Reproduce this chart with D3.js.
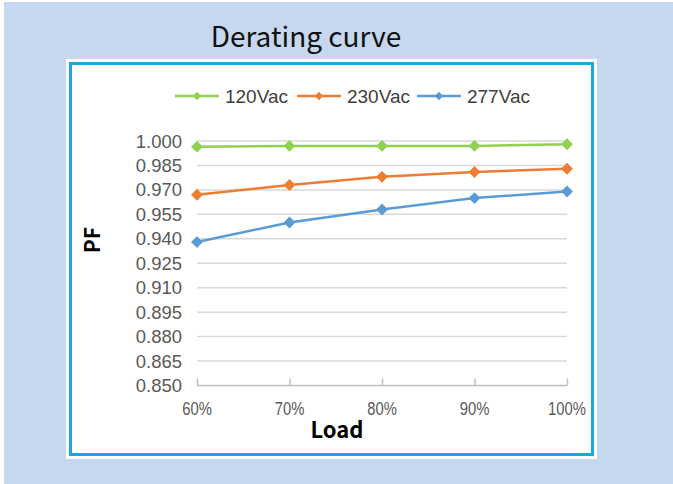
<!DOCTYPE html>
<html>
<head>
<meta charset="utf-8">
<script src="https://cdn.jsdelivr.net/npm/d3@7"></script>
<style>
  html, body { margin: 0; padding: 0; background: #fff; }
  svg { display: block; }
</style>
</head>
<body>
<svg id="chart" width="673" height="484"></svg>
<script>
// Derating curve - PF vs load for three input voltages
var loads = ["60%", "70%", "80%", "90%", "100%"];
var pf120 = [0.9965, 0.997, 0.997, 0.997, 0.998];
var pf230 = [0.967, 0.973, 0.978, 0.981, 0.983];
var pf277 = [0.938, 0.950, 0.958, 0.965, 0.969];
var seriesNames = ["120Vac", "230Vac", "277Vac"];
var seriesColors = ["#92d050", "#ed7d31", "#5b9bd5"];
var yTicks = [0.850, 0.865, 0.880, 0.895, 0.910, 0.925, 0.940, 0.955, 0.970, 0.985, 1.000];

var svg = d3.select("#chart");

// page background
svg.append("rect").attr("x", 4).attr("y", 2).attr("width", 669).attr("height", 482)
    .attr("fill", "#c5d8ef");

// title
svg.append("text")
    .attr("x", 306).attr("y", 47)
    .attr("text-anchor", "middle")
    .attr("font-family", "'Noto Sans CJK KR', 'Noto Sans', sans-serif")
    .attr("font-size", 28)
    .attr("fill", "#111")
    .text("Derating curve");

// white card with blue frame
svg.append("rect").attr("x", 66).attr("y", 59).attr("width", 531).attr("height", 400)
    .attr("fill", "#fff");
svg.append("rect").attr("x", 70.5).attr("y", 63.5).attr("width", 522).attr("height", 391)
    .attr("fill", "none").attr("stroke", "#1aa6de").attr("stroke-width", 3);

var x = d3.scalePoint().domain(loads).range([197, 567]);
var y = d3.scaleLinear().domain([0.85, 1.0]).range([385.5, 141]);

// gridlines
svg.append("g").selectAll("line")
    .data(yTicks.slice(1))
    .join("line")
    .attr("x1", 197).attr("x2", 567)
    .attr("y1", function(d) { return y(d); })
    .attr("y2", function(d) { return y(d); })
    .attr("stroke", "#d9d9d9").attr("stroke-width", 1.5);

// x axis line with upward ticks
var xAxis = svg.append("g").attr("transform", "translate(0," + y(0.85) + ")")
    .call(d3.axisTop(x).tickSize(7).tickFormat(""));
xAxis.select(".domain").attr("d", "M197,0H567").attr("stroke", "#bfbfbf").attr("stroke-width", 1.5);
xAxis.selectAll(".tick line").attr("stroke", "#bfbfbf").attr("stroke-width", 1.5);

// x tick labels (narrow look)
svg.append("g").selectAll("text")
    .data(loads)
    .join("text")
    .attr("transform", function(d) { return "translate(" + x(d) + ",415) scale(0.8,1)"; })
    .attr("text-anchor", "middle")
    .attr("font-family", "'Liberation Sans', Arial, sans-serif")
    .attr("font-size", 18.5)
    .attr("fill", "#595959")
    .text(function(d) { return d; });

// y tick labels
svg.append("g").selectAll("text")
    .data(yTicks)
    .join("text")
    .attr("x", 182)
    .attr("y", function(d) { return y(d) + 6.5; })
    .attr("text-anchor", "end")
    .attr("font-family", "'Liberation Sans', Arial, sans-serif")
    .attr("font-size", 18.5)
    .attr("fill", "#595959")
    .text(function(d) { return d3.format(".3f")(d); });

// axis titles
svg.append("text")
    .attr("x", 337).attr("y", 438)
    .attr("text-anchor", "middle")
    .attr("font-family", "'Noto Sans CJK KR', 'Noto Sans', sans-serif")
    .attr("font-weight", "bold")
    .attr("font-size", 22)
    .attr("fill", "#000")
    .text("Load");
svg.append("text")
    .attr("transform", "translate(100,240) rotate(-90)")
    .attr("text-anchor", "middle")
    .attr("font-family", "'Noto Sans CJK KR', 'Noto Sans', sans-serif")
    .attr("font-weight", "bold")
    .attr("font-size", 21)
    .attr("fill", "#000")
    .text("PF");

// series lines and markers (square turned 45deg = fat diamond)
var allSeries = [pf120, pf230, pf277];
var line = d3.line()
    .x(function(d, i) { return x(loads[i]); })
    .y(function(d) { return y(d); });
var diamond = d3.symbol().type(d3.symbolSquare);

allSeries.forEach(function(vals, s) {
    svg.append("path")
        .attr("d", line(vals))
        .attr("fill", "none")
        .attr("stroke", seriesColors[s])
        .attr("stroke-width", 2.5);
    svg.append("g").selectAll("path")
        .data(vals)
        .join("path")
        .attr("transform", function(d, i) { return "translate(" + x(loads[i]) + "," + y(d) + ") rotate(45)"; })
        .attr("d", diamond.size(70))
        .attr("fill", seriesColors[s]);
});

// legend
var legendX = [175, 297, 417];
var legend = svg.append("g").selectAll("g")
    .data(seriesNames)
    .join("g")
    .attr("transform", function(d, i) { return "translate(" + legendX[i] + ",96)"; });
legend.append("line")
    .attr("x1", 0).attr("x2", 44).attr("y1", 0).attr("y2", 0)
    .attr("stroke", function(d, i) { return seriesColors[i]; })
    .attr("stroke-width", 2.5);
legend.append("path")
    .attr("transform", "translate(22,0) rotate(45)")
    .attr("d", diamond.size(36))
    .attr("fill", function(d, i) { return seriesColors[i]; });
legend.append("text")
    .attr("x", 50).attr("y", 6.5)
    .attr("font-family", "'Liberation Sans', Arial, sans-serif")
    .attr("font-size", 19)
    .attr("fill", "#404040")
    .attr("textLength", 63)
    .attr("lengthAdjust", "spacingAndGlyphs")
    .text(function(d) { return d; });
</script>
</body>
</html>
